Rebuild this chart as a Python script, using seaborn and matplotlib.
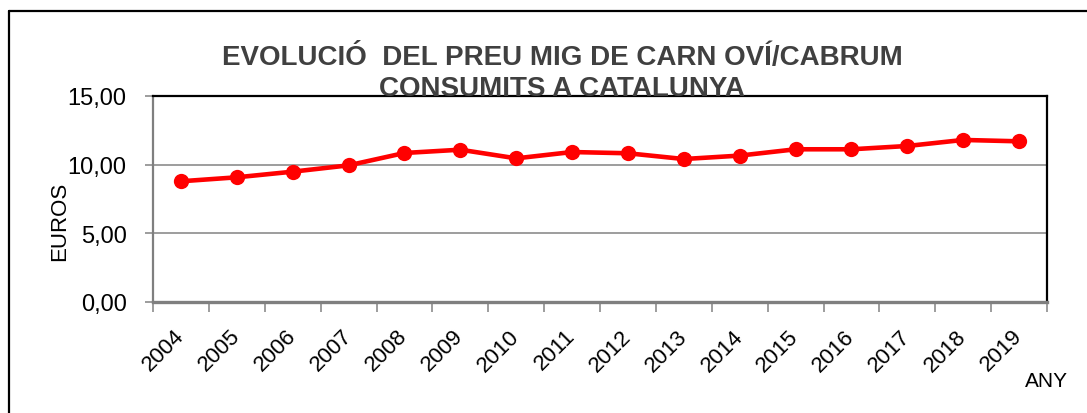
import matplotlib
matplotlib.use("Agg")
import matplotlib.pyplot as plt
from matplotlib.lines import Line2D
import seaborn as sns
import pandas as pd
from matplotlib.ticker import FixedLocator, FuncFormatter

years = ["2004", "2005", "2006", "2007", "2008", "2009", "2010", "2011",
         "2012", "2013", "2014", "2015", "2016", "2017", "2018", "2019"]
prices = [8.79, 9.08, 9.49, 9.95, 10.85, 11.09, 10.46, 10.92,
          10.83, 10.41, 10.66, 11.12, 11.12, 11.36, 11.80, 11.70]
yticks = [0, 5, 10, 15]
title_lines = ["EVOLUCIÓ  DEL PREU MIG DE CARN OVÍ/CABRUM", "CONSUMITS A CATALUNYA"]

sns.set_theme(style="white")
plt.rcParams['font.family'] = ['Liberation Sans', 'DejaVu Sans']

W, H = 1087, 414
fig = plt.figure(figsize=(W / 100, H / 100), dpi=100)
fig.patch.set_facecolor("white")

ax = fig.add_axes([153 / W, 1 - 303 / H, (1047 - 153) / W, (303 - 97) / H])
df = pd.DataFrame({"year": years, "price": prices})
sns.lineplot(data=df, x="year", y="price", ax=ax, color="#FF0000",
             linewidth=3.3, marker="o", markersize=11, markeredgewidth=0, zorder=5)

ax.set_xlim(-0.5, len(years) - 0.5)
ax.set_ylim(0, 15)
ax.set_yticks(yticks)
ax.yaxis.set_major_formatter(FuncFormatter(lambda v, p: f"{v:.2f}".replace(".", ",")))
ax.grid(axis="y", color="#8c8c8c", linewidth=1.2)
ax.grid(axis="x", visible=False)
ax.set_xlabel("")
ax.set_ylabel("")

ax.set_xticks(range(len(years)))
ax.set_xticklabels(years)
ax.xaxis.set_minor_locator(FixedLocator([i - 0.5 for i in range(len(years) + 1)]))
ax.tick_params(axis="x", which="major", length=0, pad=22, labelsize=16, colors="black")
ax.tick_params(axis="x", which="minor", length=7, width=1.2, color="#8c8c8c", direction="out", bottom=True)
ax.tick_params(axis="y", which="major", length=6, width=1.2, color="#8c8c8c", direction="out",
               left=True, pad=13, labelsize=17, labelcolor="black")
for lab in ax.get_xticklabels():
    lab.set_rotation(45)
    lab.set_ha("right")
    lab.set_va("center")
    lab.set_rotation_mode("anchor")

for side in ["top", "right"]:
    ax.spines[side].set_color("black")
    ax.spines[side].set_linewidth(1.6)
ax.spines["left"].set_color("#7f7f7f")
ax.spines["left"].set_linewidth(1.6)
ax.spines["bottom"].set_color("#7f7f7f")
ax.spines["bottom"].set_linewidth(2.4)

# outer border of the chart area
fig.add_artist(Line2D([9 / W, 9 / W], [1 - 12 / H, -0.1], color="black", linewidth=1.6,
                      transform=fig.transFigure))
fig.add_artist(Line2D([9 / W, 1.1], [1 - 12 / H, 1 - 12 / H], color="black", linewidth=1.6,
                      transform=fig.transFigure))

fig.text(562 / W, 1 - 65 / H, title_lines[0], ha="center", va="baseline",
         fontsize=20, fontweight="bold", color="#404040")
fig.text(562 / W, 1 - 96 / H, title_lines[1], ha="center", va="baseline",
         fontsize=20, fontweight="bold", color="#404040")
fig.text(60 / W, 1 - 221 / H, "EUROS", rotation=90, ha="center", va="center",
         fontsize=16, color="black")
fig.text(1046 / W, 1 - 382 / H, "ANY", ha="center", va="center", fontsize=15, color="black")

fig.savefig("out.png", dpi=100, facecolor="white")
